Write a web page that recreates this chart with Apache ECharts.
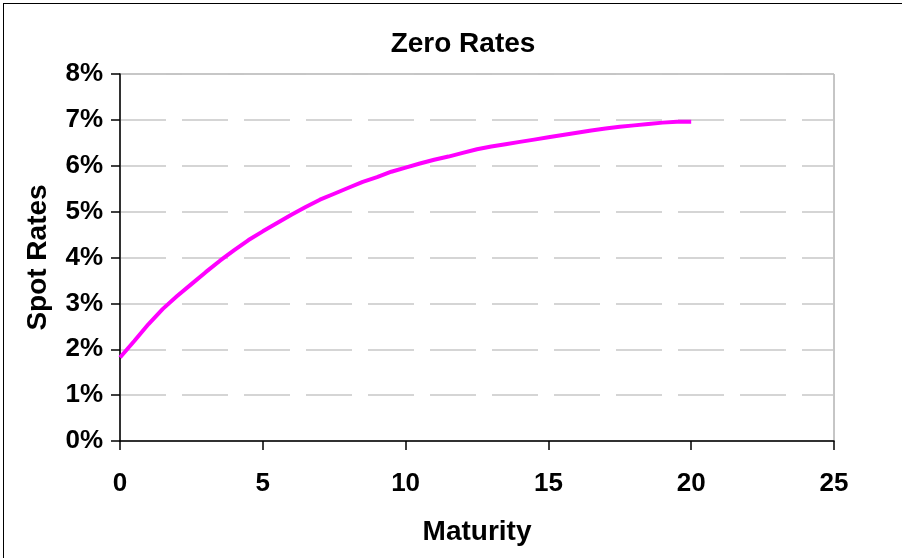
<!DOCTYPE html>
<html>
<head>
<meta charset="utf-8">
<script src="https://cdn.jsdelivr.net/npm/echarts@6/dist/echarts.min.js"></script>
<style>
  html, body { margin: 0; padding: 0; background: #fff; overflow: hidden; }
  #wrap { position: relative; width: 902px; height: 558px; }
  #chart { position: absolute; left: 0; top: 0; width: 902px; height: 558px; }
  #frame { position: absolute; left: 3px; top: 3px; width: 1000px; height: 700px;
           border-left: 1.5px solid #000; border-top: 1.5px solid #000; pointer-events: none; }
</style>
</head>
<body>
<div id="wrap">
  <div id="chart"></div>
  <div id="frame"></div>
</div>
<script>
// Zero-coupon (spot) rate curve, semiannual maturities in years
const maturities = [
  0, 0.5, 1, 1.5, 2, 2.5, 3, 3.5, 4, 4.5,
  5, 5.5, 6, 6.5, 7, 7.5, 8, 8.5, 9, 9.5,
  10, 10.5, 11, 11.5, 12, 12.5, 13, 13.5, 14, 14.5,
  15, 15.5, 16, 16.5, 17, 17.5, 18, 18.5, 19, 19.5, 20
];
// Spot rates in percent
const spotRates = [
  1.82, 2.18, 2.55, 2.88, 3.16, 3.42, 3.68, 3.93, 4.16, 4.38,
  4.57, 4.75, 4.93, 5.10, 5.26, 5.39, 5.52, 5.65, 5.75, 5.87,
  5.96, 6.05, 6.13, 6.20, 6.28, 6.36, 6.42, 6.47, 6.52, 6.57,
  6.62, 6.67, 6.72, 6.77, 6.81, 6.85, 6.88, 6.91, 6.94, 6.96, 6.96
];
const xTicks = { min: 0, max: 25, step: 5 };
const yTicks = { min: 0, max: 8, step: 1 };

const fontFamily = '"Liberation Sans", Arial, sans-serif';
const points = maturities.map((m, i) => [m, spotRates[i]]);

const chart = echarts.init(document.getElementById('chart'), null, { renderer: 'canvas' });
chart.setOption({
  animation: false,
  backgroundColor: '#fff',
  title: {
    text: 'Zero Rates',
    left: 458, top: 25, textAlign: 'center',
    textStyle: { fontFamily, fontWeight: 'bold', fontSize: 28, color: '#000' }
  },
  grid: {
    left: 120, top: 74, width: 714, height: 367,
    show: true, borderColor: '#8c8c8c', borderWidth: 1, backgroundColor: 'transparent'
  },
  xAxis: {
    type: 'value',
    min: xTicks.min, max: xTicks.max, interval: xTicks.step,
    name: 'Maturity', nameLocation: 'middle', nameGap: 77,
    nameTextStyle: { fontFamily, fontWeight: 'bold', fontSize: 28, color: '#000' },
    axisLine: { show: true, onZero: false, lineStyle: { color: '#000', width: 1.5 } },
    axisTick: { show: true, inside: false, length: 9, lineStyle: { color: '#000', width: 1.5 } },
    axisLabel: { margin: 30, fontFamily, fontWeight: 'bold', fontSize: 26, color: '#000' },
    splitLine: { show: false }
  },
  yAxis: {
    type: 'value',
    min: yTicks.min, max: yTicks.max, interval: yTicks.step,
    name: 'Spot Rates', nameLocation: 'middle', nameGap: 68, nameRotate: 90,
    nameTextStyle: { fontFamily, fontWeight: 'bold', fontSize: 28, color: '#000' },
    axisLine: { show: true, lineStyle: { color: '#000', width: 1.5 } },
    axisTick: { show: true, inside: false, length: 9, lineStyle: { color: '#000', width: 1.5 } },
    axisLabel: { margin: 17, fontFamily, fontWeight: 'bold', fontSize: 26, color: '#000',
                 formatter: '{value}%' },
    splitLine: { show: true, lineStyle: { color: '#c8c8c8', width: 1.5, type: [46, 16] } }
  },
  series: [{
    type: 'line',
    data: points,
    showSymbol: false,
    smooth: false,
    lineStyle: { color: '#ff00ff', width: 4 },
    z: 5
  }]
});
</script>
</body>
</html>
